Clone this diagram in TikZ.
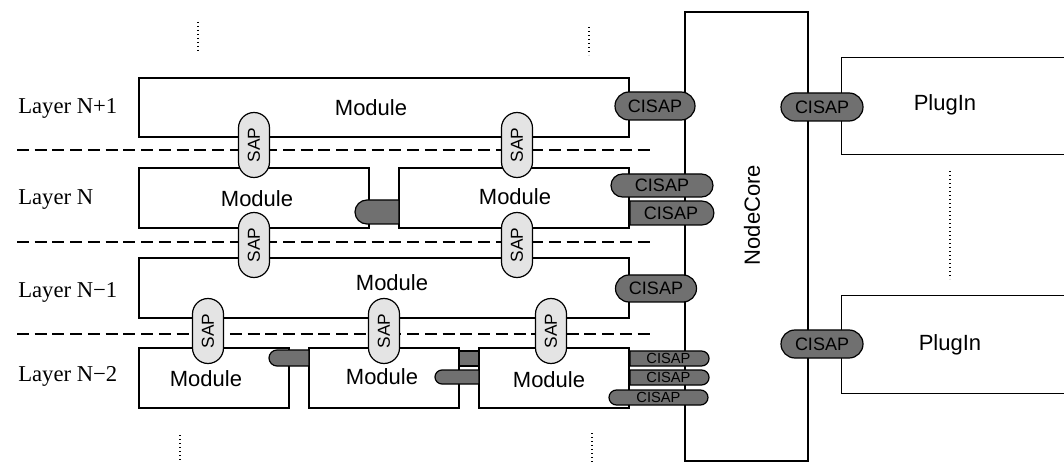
\documentclass[tikz,border=0pt]{standalone}
\usepackage{fontspec}
\setmainfont{Liberation Serif}
\setsansfont{Liberation Sans}
\usetikzlibrary{shapes.misc,fit}
\def\px{0.75pt}
\definecolor{cidark}{HTML}{707070}
\definecolor{saplight}{HTML}{E4E4E4}
\tikzset{
 box/.style={draw, line width=1.1pt, fill=white, inner sep=0pt},
 area/.style={inner sep=0pt},
 pill/.style={draw, line width=0.9pt, rounded rectangle, inner sep=0pt, font=\sffamily},
 cisap/.style={pill, fill=cidark, font=\sffamily\fontsize{13.5}{14}\selectfont},
 small/.style={font=\sffamily\fontsize{11}{11}\selectfont},
 sap/.style={pill, fill=saplight, rotate=90, minimum width=65*\px, minimum height=31*\px, font=\sffamily\fontsize{13}{13}\selectfont},
 modtext/.style={font=\sffamily\fontsize{16.5}{17}\selectfont, inner sep=0pt},
 layertext/.style={font=\fontsize{17}{18}\selectfont, anchor=west, inner sep=0pt},
 sep/.style={dash pattern=on 9pt off 4.3pt, line width=0.9pt},
 dots/.style={dotted, line width=1pt},
 flatw/.style={rounded rectangle west arc=none},
 flate/.style={rounded rectangle east arc=none},
}
\begin{document}
\begin{tikzpicture}[x=0.75pt,y=-0.75pt]
\useasboundingbox (0,0) rectangle (1064,463);
% NodeCore
\node[box, fit={(685,12) (808,461)}] (core) {};
\node[modtext, rotate=90] (coret) at (752,215) {NodeCore};
% PlugIns (right side open)
\node[area, fit={(842,58) (1064,154)}] (p1) {};
\draw[line width=1.1pt] (p1.north east) -- (p1.north west) -- (p1.south west) -- (p1.south east);
\node[area, fit={(842,296) (1064,393)}] (p2) {};
\draw[line width=1.1pt] (p2.north east) -- (p2.north west) -- (p2.south west) -- (p2.south east);
\node[modtext] (p1t) at (945,105) {PlugIn};
\node[modtext] (p2t) at (950,345) {PlugIn};
% layer separators
\coordinate (d1a) at (17,150); \coordinate (d1b) at (652,150);
\coordinate (d2a) at (17,242); \coordinate (d2b) at (652,242);
\coordinate (d3a) at (17,334); \coordinate (d3b) at (652,334);
\draw[sep] (d1a) -- (d1b);
\draw[sep] (d2a) -- (d2b);
\draw[sep] (d3a) -- (d3b);
% dotted continuation marks
\coordinate (v1a) at (198,22); \coordinate (v1b) at (198,53);
\coordinate (v2a) at (589,27); \coordinate (v2b) at (589,55);
\coordinate (v3a) at (180,435); \coordinate (v3b) at (180,463);
\coordinate (v4a) at (592,433); \coordinate (v4b) at (592,463);
\coordinate (v5a) at (950,171); \coordinate (v5b) at (950,279);
\draw[dots] (v1a) -- (v1b);
\draw[dots] (v2a) -- (v2b);
\draw[dots] (v3a) -- (v3b);
\draw[dots] (v4a) -- (v4b);
\draw[dots] (v5a) -- (v5b);
% modules
\node[box, fit={(139,78) (629,137)}] (m1) {};
\node[box, fit={(139,168) (369,228)}] (m2a) {};
\node[box, fit={(399,168) (629,228)}] (m2b) {};
\node[box, fit={(139,258) (629,318)}] (m3) {};
\node[box, fit={(139,348) (289,408)}] (m4a) {};
\node[box, fit={(309,348) (459,408)}] (m4b) {};
\node[box, fit={(479,348) (629,408)}] (m4c) {};
\node[modtext] (t1) at (371,108) {Module};
\node[modtext] (t2a) at (257,199) {Module};
\node[modtext] (t2b) at (515,197) {Module};
\node[modtext] (t3) at (392,283) {Module};
\node[modtext] (t4a) at (206,379) {Module};
\node[modtext] (t4b) at (382,377) {Module};
\node[modtext] (t4c) at (549,380) {Module};
% layer labels
\node[layertext] (l1) at (18,108) {Layer N+1};
\node[layertext] (l2) at (18,200) {Layer N};
\node[layertext] (l3) at (18,292) {Layer N−1};
\node[layertext] (l4) at (18,376) {Layer N−2};
% SAPs
\node[sap] (s1) at (254,145) {SAP};
\node[sap] (s2) at (517,145) {SAP};
\node[sap] (s3) at (254,245) {SAP};
\node[sap] (s4) at (517,245) {SAP};
\node[sap] (s5) at (208,331) {SAP};
\node[sap] (s6) at (384,331) {SAP};
\node[sap] (s7) at (551,331) {SAP};
% intra-layer connectors
\node[pill, fill=cidark, flate, minimum width=44*\px, minimum height=24*\px] (k1) at (377,212) {};
\node[pill, fill=cidark, flate, minimum width=40*\px, minimum height=16*\px] (k2) at (289,358) {};
\node[draw, line width=0.9pt, fill=cidark, inner sep=0pt, fit={(459,351) (479,366)}] (k3) {};
\node[pill, fill=cidark, flate, minimum width=44*\px, minimum height=14*\px] (k4) at (457,377) {};
% CISAPs
\node[cisap, minimum width=80*\px, minimum height=28*\px] (c1) at (655,106) {CISAP};
\node[cisap, minimum width=102*\px, minimum height=23*\px] (c2) at (662,185.5) {CISAP};
\node[cisap, flatw, minimum width=84*\px, minimum height=24*\px] (c3) at (671,213) {CISAP};
\node[cisap, minimum width=81*\px, minimum height=27*\px] (c4) at (656,288.5) {CISAP};
\node[cisap, small, flatw, minimum width=79*\px, minimum height=15*\px] (c5) at (668.5,358.5) {CISAP};
\node[cisap, small, flatw, minimum width=79*\px, minimum height=15*\px] (c6) at (668.5,377.5) {CISAP};
\node[cisap, small, minimum width=99*\px, minimum height=15*\px] (c7) at (658.5,397.5) {CISAP};
\node[cisap, minimum width=82*\px, minimum height=28*\px] (c8) at (822,107) {CISAP};
\node[cisap, minimum width=82*\px, minimum height=28*\px] (c9) at (822,344) {CISAP};
\end{tikzpicture}
\end{document}
